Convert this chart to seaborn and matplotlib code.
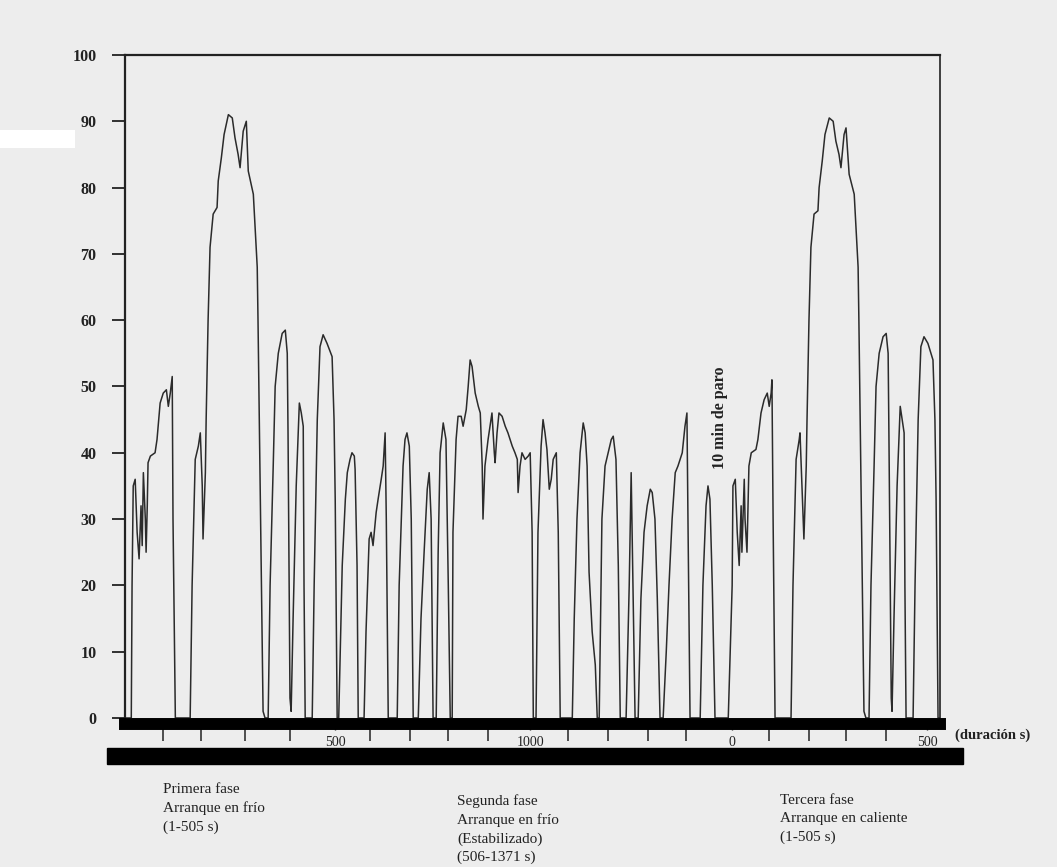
# Ciclo de conducción FTP-75 (velocidad vs. tiempo), copia del gráfico escaneado
import pandas as pd
import matplotlib.pyplot as plt
import seaborn as sns
from matplotlib.patches import Rectangle

# Datos: tiempo (s, eje continuo) y velocidad (km/h)
t_fase1 = [-44, -28, -26, -23, -18, -13, -8, -3, 0, 3, 8, 10, 13, 15, 21, 33, 38, 46, 54, 62,
           67, 72, 77, 79, 85, 123, 128, 136, 144, 149, 154, 156, 162, 164, 169, 174, 182, 192,
           195, 203, 210, 221, 231, 238, 246, 251, 259, 267, 272, 285, 295, 297, 303, 310, 315,
           323, 328, 336, 341, 349, 359, 367, 372, 374, 379, 382, 387, 395, 403, 408, 413, 415,
           418, 436, 441, 449, 456, 464, 474, 487, 492, 495, 500]
v_fase1 = [0, 0, 20, 35, 36, 28, 24, 32, 26, 37, 30, 25, 32, 38.5, 39.5, 40, 42, 47.5, 49, 49.5,
           47, 49, 51.5, 30, 0, 0, 20, 39, 41, 43, 35, 27, 37, 45, 60, 71, 76, 77,
           81, 84.5, 88, 91, 90.5, 87.5, 85, 83, 88.5, 90, 82.5, 79, 68, 60, 33, 1, 0,
           0, 20, 38, 50, 55, 58, 58.5, 55, 43, 3, 1, 15, 35, 47.5, 46, 44, 20,
           0, 0, 20, 45, 56, 57.8, 56.5, 54.5, 45, 33, 0]

t_fase2 = [504, 508, 513, 521, 526, 533, 538, 544, 546, 551, 554, 569, 574, 582, 587, 592, 600,
           605, 613, 618, 623, 626, 631, 654, 659, 669, 674, 679, 685, 690, 695, 708, 715, 723,
           731, 736, 741, 746, 754, 759, 764, 772, 779, 785, 790, 795, 797, 805, 810, 818, 823,
           831, 836, 841, 846, 854, 862, 867, 872, 874, 879, 887, 892, 897, 903, 905, 910, 915,
           923, 931, 938, 949, 956, 962, 964, 969, 974, 982, 990, 995, 1000, 1003, 1010, 1015,
           1023, 1028, 1033, 1038, 1044, 1049, 1054, 1062, 1067, 1072, 1103, 1108, 1115, 1123,
           1131, 1136, 1141, 1146, 1154, 1162, 1167, 1172, 1179, 1187, 1195, 1203, 1208, 1215,
           1221, 1226, 1241, 1249, 1254, 1259, 1264, 1272, 1279, 1287, 1295, 1303, 1308, 1315,
           1321, 1328, 1336, 1344, 1351, 1359, 1367, 1374, 1385, 1392, 1397, 1400, 1405, 1431,
           1438, 1446, 1451, 1456, 1462, 1469, 1503]
v_fase2 = [0, 10, 23, 33, 37, 39, 40, 39.5, 37.5, 23, 0, 0, 13, 27, 28, 26, 31,
           33, 36, 38, 43, 30, 0, 0, 20, 38, 42, 43, 41, 30, 0, 0, 15, 25,
           34.5, 37, 30, 0, 0, 25, 40, 44.5, 42, 20, 0, 0, 28, 42, 45.5, 45.5, 44,
           46.5, 50, 54, 53, 49, 47, 46, 38, 30, 38, 42, 44, 46, 40, 38.5, 43, 46,
           45.5, 44, 43, 41, 40, 39, 34, 38, 40, 39, 39.5, 40, 28, 0, 0, 28,
           41, 45, 43, 40.5, 34.5, 36, 39, 40, 28, 0, 0, 15, 30, 40,
           44.5, 43, 38, 22, 13, 8, 0, 0, 30, 38, 40, 42, 42.5, 39,
           23, 0, 0, 20, 37, 18, 0, 0, 18, 28, 32, 34.5, 34, 30,
           18, 0, 0, 10, 20, 30, 37, 38, 40, 44, 46, 28, 0, 0,
           20, 32, 35, 33, 20, 0, 0]

t_fase3 = [1513, 1515, 1521, 1526, 1531, 1536, 1538, 1544, 1546, 1551, 1554, 1556, 1562, 1574,
           1579, 1587, 1595, 1603, 1608, 1613, 1615, 1618, 1623, 1664, 1669, 1677, 1685, 1687,
           1692, 1697, 1703, 1705, 1710, 1715, 1723, 1733, 1736, 1744, 1751, 1762, 1772, 1779,
           1787, 1792, 1800, 1805, 1813, 1826, 1836, 1838, 1844, 1851, 1856, 1864, 1869, 1877,
           1882, 1890, 1900, 1908, 1913, 1915, 1921, 1923, 1928, 1936, 1944, 1949, 1954, 1956,
           1959, 1977, 1982, 1990, 1997, 2005, 2015, 2028, 2033, 2036, 2041, 2046]
v_fase3 = [20, 35, 36, 28, 23, 32, 25, 36, 30, 25, 33, 38, 40, 40.5,
           42, 46, 48, 49, 47, 49, 51, 30, 0, 0, 20, 39, 42, 43,
           35, 27, 38, 45, 60, 71, 76, 76.5, 80, 84, 88, 90.5, 90, 87,
           85, 83, 88, 89, 82, 79, 68, 60, 33, 1, 0, 0, 20, 38,
           50, 55, 57.5, 58, 55, 43, 3, 1, 15, 35, 47, 45, 43, 20,
           0, 0, 20, 45, 56, 57.5, 56.5, 54, 45, 33, 0, 0]

# marcas del eje de tiempo tal como aparecen en la figura
ticks_x = [54, 151, 264, 379, 585, 687, 785, 887, 1092, 1195, 1297, 1395, 1608, 1710, 1805, 1908]
ticks_x_etiq = [495, 995, 1512, 2013]
etiquetas_x = ["500", "1000", "0", "500"]
ticks_y = [0, 10, 20, 30, 40, 50, 60, 70, 80, 90, 100]

ciclo = pd.DataFrame({"t": t_fase1 + t_fase2 + t_fase3,
                      "v": v_fase1 + v_fase2 + v_fase3})

sns.set_style("white")
plt.rcParams["font.family"] = ["Liberation Serif", "DejaVu Serif"]

fondo = "#ededed"
tinta = "#222222"
fig = plt.figure(figsize=(10.57, 8.67), dpi=100, facecolor=fondo)
ax = fig.add_axes([0.1183, 0.1719, 0.7710, 0.7647])
ax.set_facecolor(fondo)

sns.lineplot(data=ciclo, x="t", y="v", sort=False, estimator=None,
             color="#2b2b2b", linewidth=1.1, ax=ax)

ax.set_xlim(-44, 2046)
ax.set_ylim(0, 100)
ax.set_xlabel("")
ax.set_ylabel("")

# eje y
ax.set_yticks(ticks_y)
ax.set_yticklabels([str(v) for v in ticks_y], fontweight="bold", fontsize=11.5)
ax.tick_params(axis="y", left=True, direction="out", length=9.5, width=1.3, pad=11,
               color=tinta, labelcolor=tinta)

# eje x: barra gruesa con marcas hacia abajo
ax.set_xticks(ticks_x_etiq)
ax.set_xticklabels(etiquetas_x, fontweight="bold", fontsize=9)
ax.set_xticks(ticks_x, minor=True)
ax.tick_params(axis="x", which="both", bottom=True)
ax.tick_params(axis="x", which="major", direction="out", length=4, width=1, pad=4.5,
               labelcolor=tinta)
ax.tick_params(axis="x", which="minor", direction="out", length=12, width=1.1, color=tinta)

for lado in ["left", "top", "right"]:
    ax.spines[lado].set_color(tinta)
ax.spines["left"].set_linewidth(1.6)
ax.spines["top"].set_linewidth(1.6)
ax.spines["right"].set_linewidth(1.2)
ax.spines["bottom"].set_color("black")
ax.spines["bottom"].set_linewidth(8.6)
ax.spines["bottom"].set_position(("outward", 4.3))

ax.text(1482, 45.3, "10 min de paro", rotation=90, ha="center", va="center",
        fontsize=11.5, fontweight="bold", color=tinta)

# segunda barra y textos bajo el gráfico
fig.add_artist(Rectangle((107 / 1057, 1 - 764 / 867), (963 - 107) / 1057, 16 / 867,
                         transform=fig.transFigure, color="black"))
fig.add_artist(Rectangle((0, 1 - 148 / 867), 75 / 1057, 18 / 867,
                         transform=fig.transFigure, color="white", lw=0))

fig.text(955 / 1057, 1 - 735 / 867, "(duración s)", ha="left", va="center",
         fontsize=10.5, fontweight="bold", color=tinta)
fig.text(163 / 1057, 1 - 783 / 867, "Primera fase\nArranque en frío\n(1-505 s)",
         ha="left", va="top", fontsize=11, linespacing=1.5, color=tinta)
fig.text(457 / 1057, 1 - 794 / 867, "Segunda fase\nArranque en frío\n(Estabilizado)\n(506-1371 s)",
         ha="left", va="top", fontsize=11, linespacing=1.5, color=tinta)
fig.text(780 / 1057, 1 - 794 / 867, "Tercera fase\nArranque en caliente\n(1-505 s)",
         ha="left", va="top", fontsize=11, linespacing=1.5, color=tinta)

fig.savefig("out.png", dpi=100, facecolor=fondo)
